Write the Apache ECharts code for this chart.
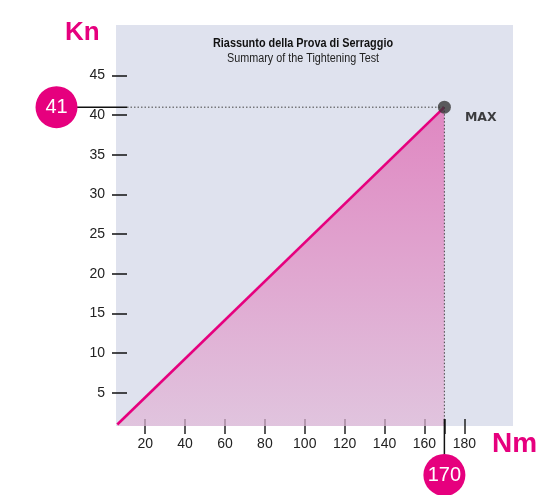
<!DOCTYPE html>
<html>
<head>
<meta charset="utf-8">
<script src="https://cdn.jsdelivr.net/npm/echarts@6/dist/echarts.min.js"></script>
<style>
html,body{margin:0;padding:0;background:#fff;}
#chart{width:556px;height:495px;}
</style>
</head>
<body>
<div id="chart"></div>
<script>
// ---- data ----
const titleIt = 'Riassunto della Prova di Serraggio';
const titleEn = 'Summary of the Tightening Test';
const xTicks = [20, 40, 60, 80, 100, 120, 140, 160, 180];
const yTicks = [5, 10, 15, 20, 25, 30, 35, 40, 45];
const lineX = [6, 170];
const lineY = [1, 41];
const maxNm = 170;
const maxKn = 41;
const xName = 'Nm';
const yName = 'Kn';
const maxLabel = 'MAX';

const MAGENTA = '#e6007e';
const sans = '"Liberation Sans", Arial, sans-serif';

const chart = echarts.init(document.getElementById('chart'), null, {renderer: 'canvas'});

const lineData = lineX.map((x, i) => [x, lineY[i]]);

const option = {
  animation: false,
  backgroundColor: '#ffffff',
  grid: {
    left: 116, top: 25, width: 397, height: 401,
    show: true, backgroundColor: '#dfe2ee', borderWidth: 0
  },
  xAxis: {
    type: 'value',
    min: 5.36, max: 204.4,
    offset: 8,
    splitLine: {show: false},
    axisLine: {show: false},
    axisTick: {show: true, inside: true, length: 15, customValues: xTicks.concat([maxNm]),
      lineStyle: {color: '#222', width: 1.5}},
    axisLabel: {customValues: xTicks, margin: 3, fontFamily: sans, fontSize: 14, color: '#222'}
  },
  yAxis: {
    type: 'value',
    min: 0.807, max: 51.36,
    offset: 4,
    splitLine: {show: false},
    axisLine: {show: false},
    axisTick: {show: true, inside: true, length: 15, customValues: yTicks,
      lineStyle: {color: '#111', width: 1.5}},
    axisLabel: {customValues: yTicks, margin: 7, fontFamily: sans, fontSize: 14, color: '#222'}
  },
  series: [
    {
      type: 'line',
      data: lineData,
      symbol: 'none',
      lineStyle: {color: MAGENTA, width: 2.6},
      areaStyle: {
        origin: 'start',
        color: new echarts.graphic.LinearGradient(0, 0, 0, 1, [
          {offset: 0, color: '#e060ae'},
          {offset: 1, color: '#e1b7d7'}
        ])
      },
      z: 3
    },
    {
      type: 'scatter',
      data: [[maxNm, maxKn]],
      symbolSize: 13,
      itemStyle: {color: '#383838'},
      label: {
        show: true, position: 'right', formatter: maxLabel,
        offset: [9, 11], fontFamily: '"DejaVu Sans", sans-serif', fontSize: 12.5, fontWeight: 'bold', color: '#111'
      },
      z: 5
    }
  ]
};

chart.setOption(option);

function drawDecor() {
  const p = chart.convertToPixel({gridIndex: 0}, [maxNm, maxKn]);
  const grid = chart.getModel().getComponent('grid', 0).coordinateSystem.getRect();
  const gLeft = grid.x, gBottom = grid.y + grid.height;
  const tickRight = gLeft + 11;
  const bub41 = {x: gLeft - 59.5, y: p[1]};
  const bub170 = {x: p[0], y: gBottom + 49};
  const dotted = {stroke: '#444', lineWidth: 1, lineDash: [1.5, 2]};
  chart.setOption({
    graphic: [
      // title
      {type: 'text', x: 303, y: 44, scaleX: 0.87, style: {text: titleIt, fill: '#111', font: 'bold 12.5px ' + sans, align: 'center', verticalAlign: 'middle'}, z: 8},
      {type: 'text', x: 303, y: 59, scaleX: 0.9, style: {text: titleEn, fill: '#222', font: '12px ' + sans, align: 'center', verticalAlign: 'middle'}, z: 8},
      // dotted guides
      {type: 'line', shape: {x1: tickRight, y1: p[1], x2: p[0], y2: p[1]}, style: dotted, z: 2},
      {type: 'line', shape: {x1: p[0], y1: p[1], x2: p[0], y2: gBottom}, style: dotted, z: 4},
      // solid connectors to bubbles
      {type: 'line', shape: {x1: bub41.x, y1: p[1], x2: tickRight, y2: p[1]}, style: {stroke: '#111', lineWidth: 1.5}, z: 6},
      {type: 'line', shape: {x1: p[0], y1: gBottom - 7, x2: p[0], y2: bub170.y}, style: {stroke: '#111', lineWidth: 1.5}, z: 6},
      // bubbles
      {type: 'circle', shape: {cx: bub41.x, cy: bub41.y, r: 21}, style: {fill: MAGENTA}, z: 7},
      {type: 'text', x: bub41.x, y: bub41.y, style: {text: String(maxKn), fill: '#fff', font: '20px ' + sans, align: 'center', verticalAlign: 'middle'}, z: 8},
      {type: 'circle', shape: {cx: bub170.x, cy: bub170.y, r: 21}, style: {fill: MAGENTA}, z: 7},
      {type: 'text', x: bub170.x, y: bub170.y, style: {text: String(maxNm), fill: '#fff', font: '20px ' + sans, align: 'center', verticalAlign: 'middle'}, z: 8},
      // axis names
      {type: 'text', x: 65, y: 33, style: {text: yName, fill: MAGENTA, font: 'bold 26px ' + sans, align: 'left', verticalAlign: 'middle'}, z: 8},
      {type: 'text', x: 492, y: 444, style: {text: xName, fill: MAGENTA, font: 'bold 28px ' + sans, align: 'left', verticalAlign: 'middle'}, z: 8}
    ]
  });
}
drawDecor();
</script>
</body>
</html>
